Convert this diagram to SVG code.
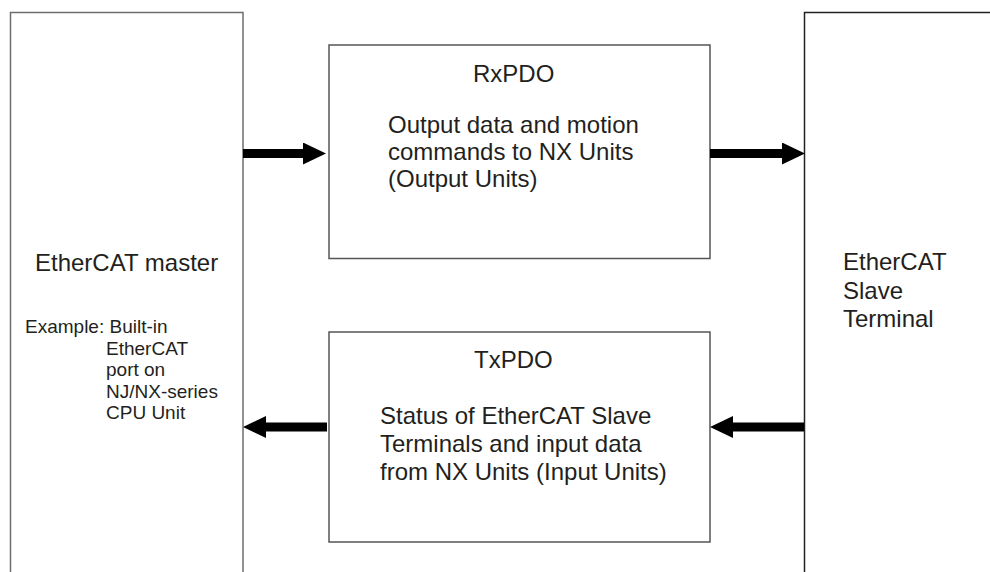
<svg xmlns="http://www.w3.org/2000/svg" width="990" height="572" viewBox="0 0 990 572">
<style>
.box{fill:#fff;stroke:#555;stroke-width:1.5}
.dark{stroke:#222}
.t{font-family:"Liberation Sans",Arial,sans-serif;fill:#231f20;font-size:24px}
.s{font-family:"Liberation Sans",Arial,sans-serif;fill:#231f20;font-size:19px}
.arr{stroke:#000;stroke-width:9;fill:none}
</style>
<defs>
<marker id="ah" markerUnits="userSpaceOnUse" viewBox="0 0 23 22" markerWidth="23" markerHeight="22" refX="0" refY="11" orient="auto">
<path d="M0,0 L23,11 L0,22 z" fill="#000"/>
</marker>
</defs>
<rect width="990" height="572" fill="#fff"/>
<g id="master">
<path class="box" d="M10.5,575 V12.5 H243 V575" style="stroke:#6d6d6d"/>
<text class="t" x="35" y="270.5">EtherCAT master</text>
<text class="s" x="25" y="333">Example: Built-in</text>
<text class="s" x="106" y="354.5">EtherCAT</text>
<text class="s" x="106" y="376">port on</text>
<text class="s" x="106" y="397.5">NJ/NX-series</text>
<text class="s" x="106" y="419">CPU Unit</text>
</g>
<g id="slave">
<path class="box dark" d="M804.5,575 V12.5 H995"/>
<text class="t" x="843" y="270">EtherCAT</text>
<text class="t" x="843" y="298.5">Slave</text>
<text class="t" x="843" y="327">Terminal</text>
</g>
<g id="rxpdo">
<rect class="box" x="329" y="45" width="381" height="213.5"/>
<text class="t" x="473" y="81.5">RxPDO</text>
<text class="t" x="388" y="132.5">Output data and motion</text>
<text class="t" x="388" y="159.5">commands to NX Units</text>
<text class="t" x="388" y="186.5">(Output Units)</text>
</g>
<g id="txpdo">
<rect class="box" x="329" y="332" width="381" height="210"/>
<text class="t" x="474" y="368">TxPDO</text>
<text class="t" x="380" y="423.5">Status of EtherCAT Slave</text>
<text class="t" x="380" y="451.5">Terminals and input data</text>
<text class="t" x="380" y="480">from NX Units (Input Units)</text>
</g>
<g id="connectors">
<line class="arr" x1="243" y1="153.5" x2="303" y2="153.5" marker-end="url(#ah)"/>
<line class="arr" x1="710" y1="153.5" x2="782" y2="153.5" marker-end="url(#ah)"/>
<line class="arr" x1="327" y1="427" x2="266" y2="427" marker-end="url(#ah)"/>
<line class="arr" x1="804" y1="427" x2="733" y2="427" marker-end="url(#ah)"/>
</g>
</svg>
